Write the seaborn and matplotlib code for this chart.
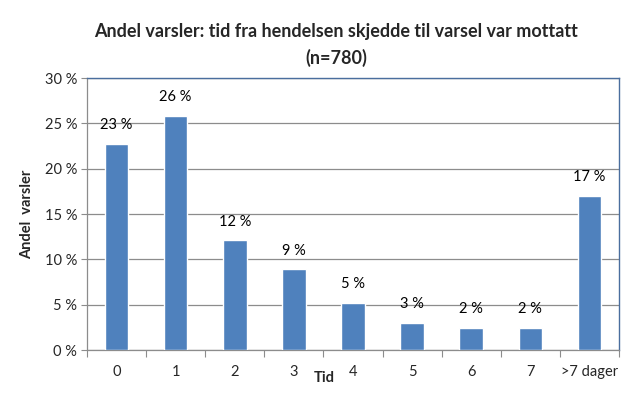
import matplotlib
matplotlib.use("Agg")
import matplotlib.pyplot as plt
import seaborn as sns
import pandas as pd

categories = ["0", "1", "2", "3", "4", "5", "6", "7", ">7 dager"]
values = [22.7, 25.8, 12.1, 8.9, 5.2, 3.0, 2.4, 2.4, 17.0]
labels = ["23 %", "26 %", "12 %", "9 %", "5 %", "3 %", "2 %", "2 %", "17 %"]
yticks = [0, 5, 10, 15, 20, 25, 30]

sns.set_theme(style="white")
plt.rcParams['font.family'] = ['Lato', 'DejaVu Sans']

df = pd.DataFrame({"Tid": categories, "Andel": values})

fig = plt.figure(figsize=(6.4, 4.01), dpi=100)
ax = fig.add_axes([87/640, 51/401, (619-87)/640, (350-78)/401])
sns.barplot(data=df, x="Tid", y="Andel", color="#4F81BD", width=0.4,
            saturation=1, ax=ax, zorder=3)

ax.set_ylim(0, 30)
ax.set_xlim(-0.5, len(categories) - 0.5)
ax.set_yticks(yticks)
ax.set_yticklabels([f"{t} %" for t in yticks], fontsize=10.5)
ax.yaxis.grid(True, color="#8c8c8c", linewidth=0.9, zorder=0)
ax.tick_params(axis="y", left=True, length=4, width=0.8, color="#8c8c8c", pad=3)
ax.tick_params(axis="x", bottom=False, labelsize=10.5, pad=5)
ax.set_xticks(range(len(categories)))
ax.set_xticklabels(categories)
# boundary ticks
ax.set_xticks([i - 0.5 for i in range(len(categories) + 1)], minor=True)
ax.tick_params(axis="x", which="minor", bottom=True, length=5, width=0.8, color="#8c8c8c")

for sp in ["left", "bottom"]:
    ax.spines[sp].set_color("#8c8c8c")
    ax.spines[sp].set_linewidth(0.9)
for sp in ["top", "right"]:
    ax.spines[sp].set_visible(True)
    ax.spines[sp].set_color("#4A6E9E")
    ax.spines[sp].set_linewidth(1.0)

for i, (v, l) in enumerate(zip(values, labels)):
    ax.text(i, v + 1.3, l, ha="center", va="bottom", fontsize=10.5, color="black")

ax.set_xlabel("")
ax.set_ylabel("Andel  varsler", fontsize=10.5, fontweight="bold", labelpad=8)
fig.text(324/640, 1 - 378/401, "Tid", ha="center", va="center", fontsize=10.5, fontweight="bold")

fig.text(336/640, 1 - 32/401, "Andel varsler: tid fra hendelsen skjedde til varsel var mottatt",
         ha="center", va="center", fontsize=13, fontweight="bold")
fig.text(336/640, 1 - 58/401, "(n=780)", ha="center", va="center", fontsize=13, fontweight="bold")

fig.savefig("out.png", dpi=100)
